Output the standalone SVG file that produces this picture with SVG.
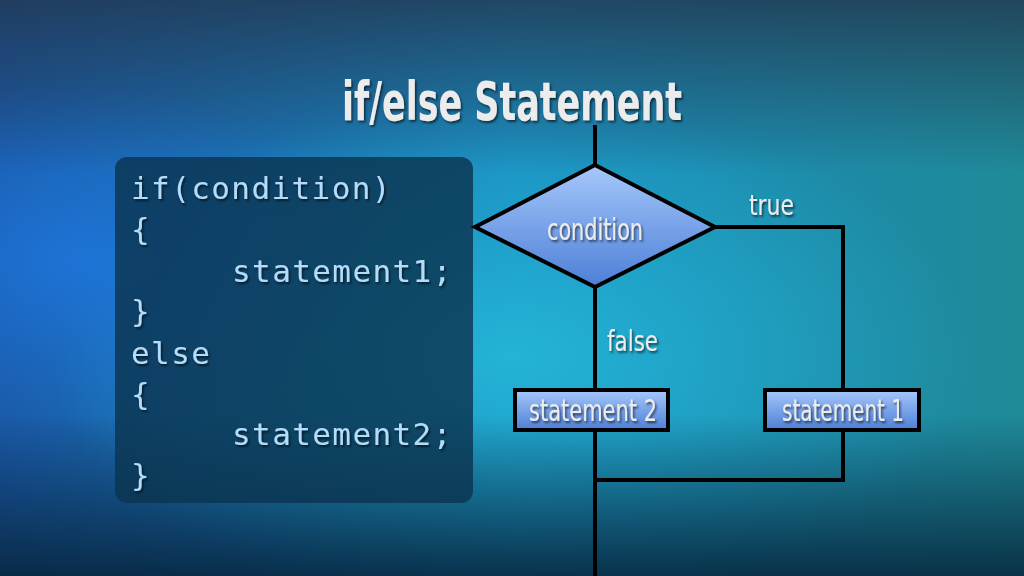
<svg xmlns="http://www.w3.org/2000/svg" width="1024" height="576" viewBox="0 0 1024 576">
<defs>
<linearGradient id="bgBase" x1="0" y1="0" x2="1" y2="0">
<stop offset="0" stop-color="#1a5aa8"/>
<stop offset="0.5" stop-color="#1a8cc0"/>
<stop offset="1" stop-color="#1f8a98"/>
</linearGradient>
<radialGradient id="glowC" cx="0.5" cy="0.62" r="0.45">
<stop offset="0" stop-color="#24b8d8" stop-opacity="0.9"/>
<stop offset="1" stop-color="#24b8d8" stop-opacity="0"/>
</radialGradient>
<radialGradient id="glowL" cx="0.08" cy="0.45" r="0.3">
<stop offset="0" stop-color="#1e78e0" stop-opacity="0.8"/>
<stop offset="1" stop-color="#1e78e0" stop-opacity="0"/>
</radialGradient>
<linearGradient id="topDark" x1="0" y1="0" x2="0" y2="1">
<stop offset="0" stop-color="#22364e" stop-opacity="0.8"/>
<stop offset="0.3" stop-color="#22364e" stop-opacity="0"/>
<stop offset="0.72" stop-color="#062238" stop-opacity="0"/>
<stop offset="1" stop-color="#062238" stop-opacity="0.85"/>
</linearGradient>
<linearGradient id="shapeFill" x1="0" y1="0" x2="0" y2="1">
<stop offset="0" stop-color="#a6c8fb"/>
<stop offset="1" stop-color="#4c7fd6"/>
</linearGradient>
<filter id="shadow" x="-10%" y="-10%" width="130%" height="140%">
<feDropShadow dx="1.5" dy="2" stdDeviation="1" flood-color="#000" flood-opacity="0.6"/>
</filter>
</defs>
<style>
.lbl{font-family:"DejaVu Sans","Liberation Sans",sans-serif;font-stretch:condensed;fill:#ececec;filter:url(#shadow)}
.code{font-family:"DejaVu Sans Mono","Liberation Mono",monospace;font-size:31px;letter-spacing:1.4px;fill:#b2dcfa;filter:url(#shadow)}
.conn{fill:none;stroke:#000;stroke-width:4}
.shape{fill:url(#shapeFill);stroke:#000;stroke-width:4}
</style>
<rect x="0" y="0" width="1024" height="576" fill="url(#bgBase)"/>
<rect x="0" y="0" width="1024" height="576" fill="url(#glowC)"/>
<rect x="0" y="0" width="1024" height="576" fill="url(#glowL)"/>
<rect x="0" y="0" width="1024" height="576" fill="url(#topDark)"/>

<text class="lbl" x="342" y="120" font-size="54" font-weight="bold" textLength="340" lengthAdjust="spacingAndGlyphs">if/else Statement</text>

<g id="code-panel">
<rect x="115" y="157" width="358" height="346" rx="12" fill="#0b3550" fill-opacity="0.82"/>
<text class="code" x="131" y="199">if(condition)</text>
<text class="code" x="131" y="240">{</text>
<text class="code" x="232" y="282">statement1;</text>
<text class="code" x="131" y="322">}</text>
<text class="code" x="131" y="364">else</text>
<text class="code" x="131" y="405">{</text>
<text class="code" x="232" y="445">statement2;</text>
<text class="code" x="131" y="486">}</text>
</g>

<g id="connectors">
<path class="conn" d="M595 125 V167"/>
<path class="conn" d="M713 227 H843 V390"/>
<path class="conn" d="M595 285 V390"/>
<path class="conn" d="M595 430 V576"/>
<path class="conn" d="M843 430 V480 H595"/>
<text class="lbl" x="749" y="215" font-size="29" textLength="45" lengthAdjust="spacingAndGlyphs">true</text>
<text class="lbl" x="607" y="351" font-size="29" textLength="51" lengthAdjust="spacingAndGlyphs">false</text>
</g>

<g id="condition">
<polygon class="shape" points="595,165 715,227 595,287 475,227"/>
<text class="lbl" x="547" y="240" font-size="30" textLength="96" lengthAdjust="spacingAndGlyphs">condition</text>
</g>

<g id="statement2">
<rect class="shape" x="515" y="390" width="153" height="40"/>
<text class="lbl" x="529" y="421" font-size="30" textLength="128" lengthAdjust="spacingAndGlyphs">statement 2</text>
</g>

<g id="statement1">
<rect class="shape" x="765" y="390" width="154" height="40"/>
<text class="lbl" x="782" y="421" font-size="30" textLength="122" lengthAdjust="spacingAndGlyphs">statement 1</text>
</g>
</svg>
